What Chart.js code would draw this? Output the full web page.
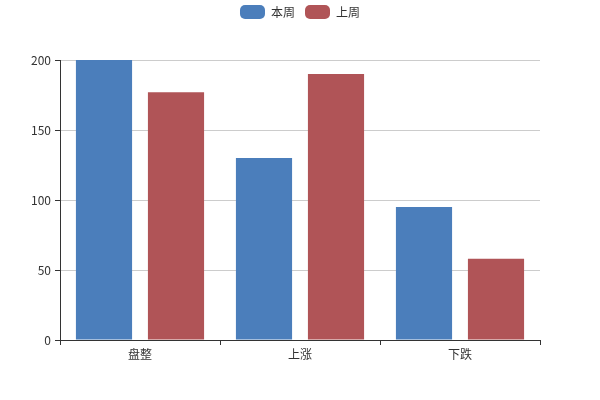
<!DOCTYPE html>
<html lang="zh">
<head>
  <meta charset="UTF-8" />
  <title>本周 / 上周</title>
  <script src="https://cdn.jsdelivr.net/npm/chart.js"></script>
  <style>
    html, body { margin: 0; padding: 0; background: #fff; }
    #wrap { width: 600px; height: 400px; }
  </style>
</head>
<body>
  <div id="wrap"><canvas id="chart" width="600" height="400"></canvas></div>

  <script>
    // categories and series
    const categories = ['盘整', '上涨', '下跌'];
    const thisWeek = [200, 130, 95];
    const lastWeek = [177, 190, 58];
    const seriesNames = ['本周', '上周'];

    const font = { family: "'Noto Sans CJK SC', 'Noto Sans', sans-serif", size: 12 };

    const ctx = document.getElementById('chart').getContext('2d');
    new Chart(ctx, {
      type: 'bar',
      data: {
        labels: categories,
        datasets: [
          { label: seriesNames[0], data: thisWeek, backgroundColor: '#4b7ebb', borderRadius: 0, yAxisID: 'y' },
          { label: seriesNames[1], data: lastWeek, backgroundColor: '#b05457', borderRadius: 0, yAxisID: 'y' }
        ]
      },
      options: {
        responsive: false,
        animation: false,
        layout: { padding: { left: 0, right: 0, top: -5, bottom: 0 } },
        datasets: { bar: { categoryPercentage: 0.9, barPercentage: 0.78 } },
        plugins: {
          legend: {
            position: 'top',
            labels: {
              font: font,
              color: '#333',
              boxWidth: 25,
              boxHeight: 14,
              useBorderRadius: true,
              borderRadius: 5,
              padding: 10
            }
          },
          // empty title used only as a spacer between legend and plot
          title: {
            display: true,
            text: ' ',
            position: 'top',
            weight: 0,
            font: { size: 1, lineHeight: 1 },
            padding: { top: 0, bottom: 30 }
          },
          tooltip: { enabled: false }
        },
        scales: {
          x: {
            grid: { offset: true, drawOnChartArea: false, tickLength: 5, color: '#333', tickColor: '#333' },
            border: { color: '#333' },
            ticks: { font: font, color: '#333', padding: 2 },
            afterFit: (scale) => { scale.height = 60; }
          },
          y: {
            min: 0,
            max: 200,
            ticks: { stepSize: 50, font: font, color: '#333', padding: 4 },
            grid: { color: '#ccc', tickLength: 5, tickColor: '#333' },
            border: { color: '#333' },
            afterFit: (scale) => { scale.width = 60; }
          },
          // invisible right axis keeps 60px of space on the right
          yRight: {
            position: 'right',
            min: 0,
            max: 200,
            ticks: { display: false },
            grid: { drawOnChartArea: false, drawTicks: false },
            border: { display: false },
            afterFit: (scale) => { scale.width = 60; }
          }
        }
      }
    });
  </script>
</body>
</html>
